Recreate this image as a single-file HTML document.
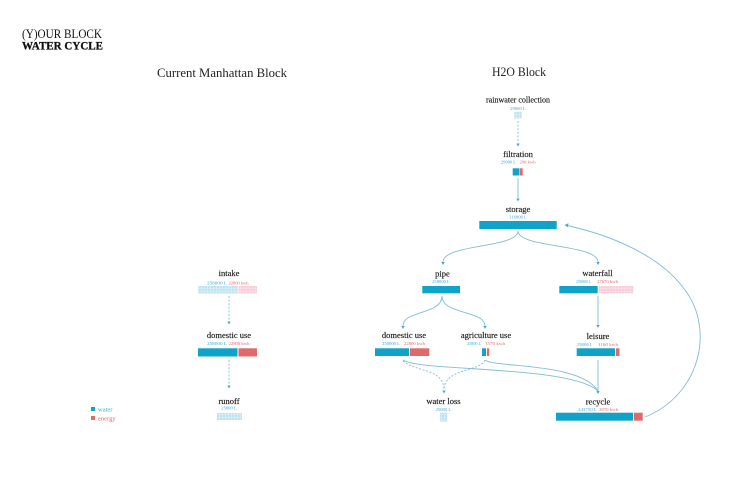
<!DOCTYPE html>
<html><head><meta charset="utf-8"><style>
html,body{margin:0;padding:0;background:#fff;}
svg{display:block;}
text{font-family:"Liberation Serif","DejaVu Serif",serif;}
.t{fill:#1a1a1a;font-size:8.5px;stroke:#1a1a1a;stroke-width:0.15;}
.vb{fill:#3aaad0;font-size:4.6px;}
.vr{fill:#e06a6a;font-size:4.6px;}
.c{fill:none;stroke:#7fbdd6;stroke-width:0.9;}
.d{fill:none;stroke:#7fbdd6;stroke-width:0.9;stroke-dasharray:2 1.6;}
.a{fill:#4fa6c8;}
</style></head><body>
<svg width="750" height="485" viewBox="0 0 750 485" xmlns="http://www.w3.org/2000/svg">
<defs>
<pattern id="hb" width="3" height="3" patternUnits="userSpaceOnUse">
<rect width="3" height="3" fill="#bfe3ef"/>
<path d="M0 .5H3M.5 0V3" stroke="#e3f3f9" stroke-width="0.5"/>
</pattern>
<pattern id="hp" width="3" height="3" patternUnits="userSpaceOnUse">
<rect width="3" height="3" fill="#f7cfdb"/>
<path d="M0 .5H3M.5 0V3" stroke="#fbe6ec" stroke-width="0.5"/>
</pattern>
</defs>

<!-- titles -->
<text x="22" y="38" font-size="12.5" fill="#111" textLength="80" lengthAdjust="spacingAndGlyphs">(Y)OUR BLOCK</text>
<text x="22" y="49.5" font-size="12" font-weight="bold" fill="#111" stroke="#111" stroke-width="0.3" textLength="81" lengthAdjust="spacingAndGlyphs">WATER CYCLE</text>
<text x="157" y="77" font-size="13" fill="#222" textLength="130" lengthAdjust="spacingAndGlyphs">Current Manhattan Block</text>
<text x="492" y="76" font-size="13" fill="#222" textLength="54" lengthAdjust="spacingAndGlyphs">H2O Block</text>

<!-- legend -->
<rect x="91" y="407" width="4" height="4" fill="#0fa3c7"/>
<text x="98" y="411.5" font-size="6.5" fill="#3aaad0">water</text>
<rect x="91" y="416" width="4" height="4" fill="#e06a6a"/>
<text x="98" y="420.5" font-size="6.5" fill="#e06a6a">energy</text>

<!-- LEFT: intake -->
<text class="t" x="229" y="276" text-anchor="middle">intake</text>
<text class="vb" x="207" y="284.3" textLength="20" lengthAdjust="spacingAndGlyphs">258000 L</text>
<text class="vr" x="228.5" y="284.3" textLength="20" lengthAdjust="spacingAndGlyphs">22800 kwh</text>
<rect x="198" y="286" width="40" height="7.5" fill="url(#hb)"/>
<rect x="238.5" y="286" width="18.5" height="7.5" fill="url(#hp)"/>
<path class="d" d="M229 296V321"/>
<path class="a" d="M227.3 321.5L230.7 321.5L229 324.5Z"/>

<!-- LEFT: domestic use -->
<text class="t" x="229" y="338" text-anchor="middle">domestic use</text>
<text class="vb" x="207" y="345" textLength="20" lengthAdjust="spacingAndGlyphs">258000 L</text>
<text class="vr" x="228.5" y="345" textLength="21" lengthAdjust="spacingAndGlyphs">22800 kwh</text>
<rect x="198" y="348.3" width="39.5" height="8.2" fill="#0fa3c7"/>
<rect x="238.5" y="348.3" width="18.5" height="8.2" fill="#e06a6a"/>
<path class="d" d="M229 360V385"/>
<path class="a" d="M227.3 385.5L230.7 385.5L229 388.5Z"/>

<!-- LEFT: runoff -->
<text class="t" x="229" y="404" text-anchor="middle">runoff</text>
<text class="vb" x="229" y="409.7" text-anchor="middle">25800 L</text>
<rect x="217" y="413" width="25" height="7" fill="url(#hb)"/>

<!-- RIGHT: rainwater collection -->
<text class="t" x="518" y="102.5" text-anchor="middle" textLength="64" lengthAdjust="spacingAndGlyphs">rainwater collection</text>
<text class="vb" x="518" y="110" text-anchor="middle">29000 L</text>
<rect x="514.3" y="111.7" width="7.4" height="6.8" fill="url(#hb)"/>
<path class="d" d="M518 121V143"/>
<path class="a" d="M516.3 143.5L519.7 143.5L518 146.5Z"/>

<!-- filtration -->
<text class="t" x="518" y="157" text-anchor="middle">filtration</text>
<text class="vb" x="501" y="163.5" textLength="15" lengthAdjust="spacingAndGlyphs">29000 L</text>
<text class="vr" x="519.5" y="163.5" textLength="16" lengthAdjust="spacingAndGlyphs">290 kwh</text>
<rect x="512.7" y="168.3" width="6.8" height="7.2" fill="#0fa3c7"/>
<rect x="520" y="168.3" width="2.7" height="7.2" fill="#e06a6a"/>
<path class="c" d="M518 178V198"/>
<path class="a" d="M516.3 198.5L519.7 198.5L518 201.5Z"/>

<!-- storage -->
<text class="t" x="518" y="212" text-anchor="middle">storage</text>
<text class="vb" x="518" y="218.3" text-anchor="middle">316800 L</text>
<rect x="479.3" y="221" width="77.4" height="8" fill="#0fa3c7"/>

<!-- storage -> pipe / waterfall -->
<path class="c" d="M518 231C518 248 443 244 443 262"/>
<path class="a" d="M441.3 262L444.7 262L443 265Z"/>
<path class="c" d="M518 231C518 248 598 244 598 262"/>
<path class="a" d="M596.3 262L599.7 262L598 265Z"/>

<!-- pipe -->
<text class="t" x="442.5" y="276.5" text-anchor="middle">pipe</text>
<text class="vb" x="441" y="283" text-anchor="middle">258000 L</text>
<rect x="422.3" y="286" width="37.7" height="7.3" fill="#0fa3c7"/>
<path class="c" d="M442 296C442 315 403 310 403 326"/>
<path class="a" d="M401.3 326L404.7 326L403 329Z"/>
<path class="c" d="M442 296C442 315 485 310 485 326"/>
<path class="a" d="M483.3 326L486.7 326L485 329Z"/>

<!-- waterfall -->
<text class="t" x="597.5" y="276" text-anchor="middle">waterfall</text>
<text class="vb" x="576" y="282.8" textLength="15" lengthAdjust="spacingAndGlyphs">258000 L</text>
<text class="vr" x="597" y="282.8" textLength="21" lengthAdjust="spacingAndGlyphs">27670 kwh</text>
<rect x="559.3" y="286" width="38.4" height="7.3" fill="#0fa3c7"/>
<rect x="599" y="286" width="34.3" height="7.3" fill="url(#hp)"/>
<path class="c" d="M598 296V325"/>
<path class="a" d="M596.3 325L599.7 325L598 328Z"/>

<!-- leisure -->
<text class="t" x="598" y="339" text-anchor="middle">leisure</text>
<text class="vb" x="577" y="346" textLength="15" lengthAdjust="spacingAndGlyphs">258000 L</text>
<text class="vr" x="598" y="346" textLength="20" lengthAdjust="spacingAndGlyphs">1160 kwh</text>
<rect x="576.7" y="348.3" width="38.3" height="7.7" fill="#0fa3c7"/>
<rect x="616" y="348.3" width="3.5" height="7.7" fill="#e06a6a"/>
<path class="c" d="M598 360V391"/>
<path class="a" d="M596.3 391L599.7 391L598 394Z"/>

<!-- domestic use (right) -->
<text class="t" x="404" y="338" text-anchor="middle">domestic use</text>
<text class="vb" x="382" y="345" textLength="18" lengthAdjust="spacingAndGlyphs">258000 L</text>
<text class="vr" x="404" y="345" textLength="21" lengthAdjust="spacingAndGlyphs">22800 kwh</text>
<rect x="375" y="348.3" width="34" height="7.7" fill="#0fa3c7"/>
<rect x="410" y="348.3" width="19.3" height="7.7" fill="#e06a6a"/>

<!-- agriculture use -->
<text class="t" x="486" y="338" text-anchor="middle">agriculture use</text>
<text class="vb" x="467" y="345" textLength="14" lengthAdjust="spacingAndGlyphs">25800 L</text>
<text class="vr" x="485" y="345" textLength="20" lengthAdjust="spacingAndGlyphs">1570 kwh</text>
<rect x="482" y="348.3" width="4" height="7.7" fill="#0fa3c7"/>
<rect x="487" y="348.3" width="2.2" height="7.7" fill="#e06a6a"/>

<!-- to water loss / recycle -->
<path class="d" d="M403 361C415 372 444 368 444 390"/>
<path class="d" d="M485 360C480 372 444 368 444 390"/>
<path class="a" d="M442.3 390.5L445.7 390.5L444 393.5Z"/>
<path class="c" d="M403 360C420 372 570 365 598 391"/>
<path class="c" d="M485 360C495 368 580 362 598 391"/>

<!-- water loss -->
<text class="t" x="443.5" y="404" text-anchor="middle">water loss</text>
<text class="vb" x="443.5" y="410.8" text-anchor="middle">29000 L</text>
<rect x="440" y="412.7" width="7.3" height="9" fill="url(#hb)"/>

<!-- recycle -->
<text class="t" x="598" y="404.5" text-anchor="middle">recycle</text>
<text class="vb" x="578" y="411" textLength="19" lengthAdjust="spacingAndGlyphs">243750 L</text>
<text class="vr" x="599" y="411" textLength="19" lengthAdjust="spacingAndGlyphs">2870 kwh</text>
<rect x="556" y="412.7" width="77" height="8" fill="#0fa3c7"/>
<rect x="634" y="412.7" width="8.7" height="8" fill="#e06a6a"/>

<!-- recycle -> storage -->
<path class="c" d="M645 417C700 395 715 330 685 290C660 255 610 235 567 225.5"/>
<path class="a" d="M564.5 225L568.5 223.2L567.8 227.2Z"/>
</svg>
</body></html>
